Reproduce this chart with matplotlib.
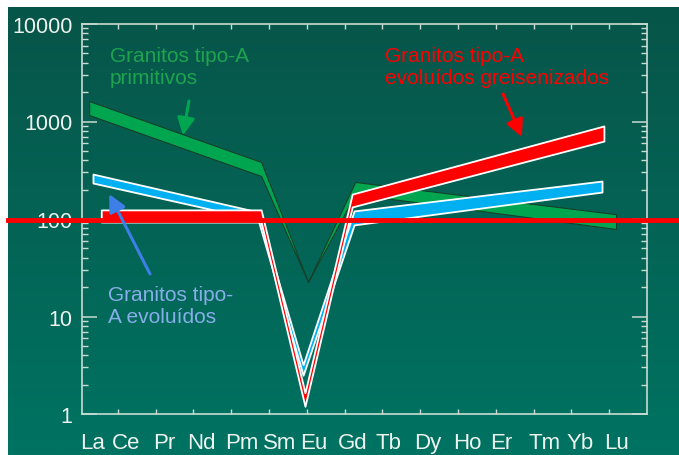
import numpy as np
import matplotlib
matplotlib.use("Agg")
import matplotlib.pyplot as plt
from matplotlib.ticker import LogLocator, NullFormatter, FixedLocator

plt.rcParams['font.family'] = ['Liberation Sans', 'DejaVu Sans']

# REE labels and where the text sits along the axis
elements = ['La', 'Ce', 'Pr', 'Nd', 'Pm', 'Sm', 'Eu', 'Gd', 'Tb', 'Dy', 'Ho', 'Er', 'Tm', 'Yb', 'Lu']
label_pos = [0.32, 1.22, 2.22, 3.2, 4.29, 5.29, 6.19, 7.22, 8.17, 9.21, 10.24, 11.14, 12.28, 13.23, 14.18]
tick_pos = list(range(1, 15))

# bands (x along the REE axis, upper / lower normalized values)
green_x = [0.24, 4.79, 6.03, 7.28, 14.18]
green_hi = [1620, 384, 22.6, 240, 112]
green_lo = [1165, 276, 22.6, 180, 79]

blue_x = [0.34, 4.71, 5.90, 7.25, 13.81]
blue_hi = [289, 118, 3.2, 121, 245]
blue_lo = [234, 98, 2.5, 87, 189]

red_x = [0.56, 4.79, 5.95, 7.2, 13.86]
red_hi = [124, 124, 1.65, 180, 900]
red_lo = [93, 93, 1.2, 133, 630]

ref_level = 97

W, H = 679, 456
fig = plt.figure(figsize=(W / 100, H / 100), dpi=100)
fig.patch.set_facecolor('white')

# teal gradient background
bg = fig.add_axes([8 / W, 0, 1 - 8 / W, 1 - 8 / H])
top_c = np.array([7, 85, 73]) / 255
bot_c = np.array([0, 115, 98]) / 255
t = np.linspace(0, 1, 256)[:, None, None]
grad = top_c * (1 - t) + bot_c * t
bg.imshow(np.repeat(grad, 2, axis=1), aspect='auto', extent=[0, 1, 0, 1])
bg.set_axis_off()

ax = fig.add_axes([82 / W, 1 - 415 / H, (647 - 82) / W, (415 - 25) / H])
ax.set_facecolor('none')
ax.set_yscale('log')
ax.set_ylim(1, 10000)
ax.set_xlim(0.05, 15.0)

spine_c = '#c9dbd3'
text_c = '#eef3ef'
for s in ax.spines.values():
    s.set_color(spine_c)
    s.set_linewidth(1.2)

ax.fill_between(green_x, green_lo, green_hi, facecolor='#00a64f', edgecolor='#17402a', linewidth=0.8, zorder=2)
ax.fill_between(blue_x, blue_lo, blue_hi, facecolor='#00b0f0', edgecolor='white', linewidth=1.3, zorder=3)
ax.fill_between(red_x, red_lo, red_hi, facecolor='#ff0000', edgecolor='white', linewidth=1.3, zorder=4)

ax.axhline(ref_level, xmin=-0.131, xmax=1.06, color='#ff0000', linewidth=3.5, clip_on=False, zorder=6)

# y axis
ax.yaxis.set_minor_locator(LogLocator(base=10, subs=np.arange(2, 10)))
ax.yaxis.set_minor_formatter(NullFormatter())
ax.set_yticks([1, 10, 100, 1000, 10000])
ax.set_yticklabels(['1', '10', '100', '1000', '10000'])
ax.tick_params(axis='y', which='major', direction='in', length=10.5, width=1.1,
               color=spine_c, labelcolor=text_c, labelsize=15.5, pad=7, right=True)
ax.tick_params(axis='y', which='minor', direction='in', length=4.5, width=1.0,
               color=spine_c, right=True)

# x axis
ax.set_xticks(label_pos)
ax.set_xticklabels(elements)
ax.xaxis.set_minor_locator(FixedLocator(tick_pos))
ax.tick_params(axis='x', which='major', length=0, labelcolor=text_c, labelsize=16, pad=13)
ax.tick_params(axis='x', which='minor', direction='in', length=3.8, width=1.0,
               color=spine_c, top=True)

# annotations (anchored on the baseline of the last line)
ax.text(0.79, 2480, 'Granitos tipo-A\nprimitivos', color='#1ea34f', fontsize=15,
        va='baseline', ha='left', linespacing=1.17, zorder=7)
ax.text(8.07, 2480, 'Granitos tipo-A\nevoluídos greisenizados', color='#ff0000', fontsize=15,
        va='baseline', ha='left', linespacing=1.17, zorder=7)
ax.text(0.74, 8.8, 'Granitos tipo-\nA evoluídos', color='#86aee8', fontsize=15,
        va='baseline', ha='left', linespacing=1.17, zorder=7)

arrow_kw = dict(arrowstyle='-|>', linewidth=2.2, mutation_scale=26, shrinkA=0, shrinkB=0)
ax.annotate('', xy=(2.72, 720), xytext=(2.88, 1623),
            arrowprops=dict(color='#00a64f', **arrow_kw), zorder=7)
ax.annotate('', xy=(11.69, 693), xytext=(11.19, 1915),
            arrowprops=dict(color='#ff0000', **arrow_kw), zorder=7)
ax.annotate('', xy=(0.77, 180), xytext=(1.85, 27.3),
            arrowprops=dict(color='#3d7fe6', **arrow_kw), zorder=7)

fig.savefig('out.png', dpi=100)
